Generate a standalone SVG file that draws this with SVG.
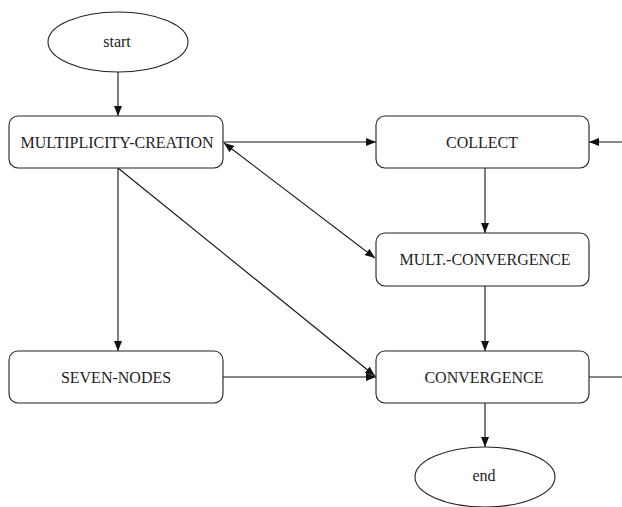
<svg xmlns="http://www.w3.org/2000/svg" width="622" height="507" viewBox="0 0 622 507">
<defs>
<marker id="ah" viewBox="0 0 10 8" refX="10" refY="4" markerWidth="10" markerHeight="8" markerUnits="userSpaceOnUse" orient="auto-start-reverse">
<path d="M0,0 L10,4 L0,8 Z" fill="#111"/>
</marker>
<style>
.n{fill:#fff;stroke:#222;stroke-width:1.1}
.t{font-family:"Liberation Serif","Times New Roman",serif;font-size:16px;fill:#222;text-anchor:middle}
.e{fill:none;stroke:#111;stroke-width:1.1}
</style>
</defs>
<rect width="622" height="507" fill="#fff"/>
<g id="edges">
<line class="e" x1="118" y1="72" x2="118" y2="116" marker-end="url(#ah)"/>
<line class="e" x1="223" y1="142" x2="376" y2="142" marker-end="url(#ah)"/>
<line class="e" x1="622" y1="142" x2="589" y2="142" marker-end="url(#ah)"/>
<line class="e" x1="589" y1="377" x2="622" y2="377"/>
<line class="e" x1="485" y1="168" x2="485" y2="233" marker-end="url(#ah)"/>
<line class="e" x1="485" y1="286" x2="485" y2="351" marker-end="url(#ah)"/>
<line class="e" x1="485" y1="403" x2="485" y2="447" marker-end="url(#ah)"/>
<line class="e" x1="118" y1="168" x2="118" y2="351" marker-end="url(#ah)"/>
<line class="e" x1="223" y1="377" x2="376" y2="377" marker-end="url(#ah)"/>
<line class="e" x1="224" y1="143" x2="375" y2="258" marker-start="url(#ah)" marker-end="url(#ah)"/>
<line class="e" x1="118" y1="168" x2="375" y2="376" marker-end="url(#ah)"/>
</g>
<g id="start"><ellipse class="n" cx="118" cy="42" rx="70" ry="30"/><text class="t" x="117" y="47" font-size="13">start</text></g>
<g id="multiplicity-creation"><rect class="n" x="9" y="116" width="214" height="52" rx="9"/><text class="t" x="117" y="148">MULTIPLICITY-CREATION</text></g>
<g id="collect"><rect class="n" x="376" y="116" width="213" height="52" rx="9"/><text class="t" x="482" y="148">COLLECT</text></g>
<g id="mult-convergence"><rect class="n" x="376" y="233" width="213" height="53" rx="9"/><text class="t" x="485" y="265">MULT.-CONVERGENCE</text></g>
<g id="seven-nodes"><rect class="n" x="9" y="351" width="214" height="52" rx="9"/><text class="t" x="116" y="383">SEVEN-NODES</text></g>
<g id="convergence"><rect class="n" x="376" y="351" width="213" height="52" rx="9"/><text class="t" x="484" y="383">CONVERGENCE</text></g>
<g id="end"><ellipse class="n" cx="485" cy="477" rx="70" ry="30"/><text class="t" x="484" y="481" font-size="13">end</text></g>
</svg>
